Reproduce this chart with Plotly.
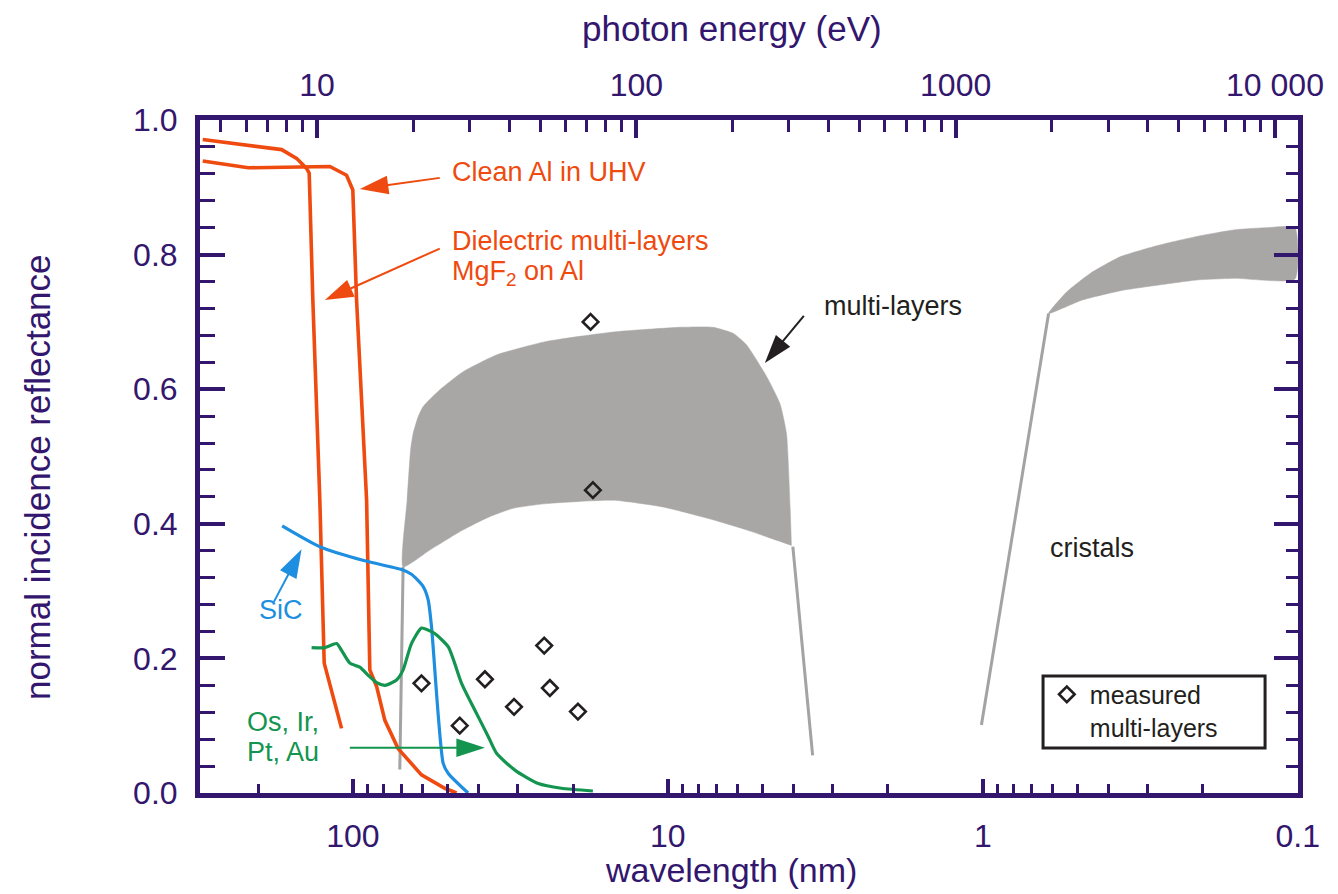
import numpy as np
import plotly.graph_objects as go

# ---- reflectance curves (wavelength in nm, normal incidence reflectance) ----
mgf2_wl = [300, 168.5, 151, 140.4, 137.7, 134.1, 127.4, 123.4, 108.7]
mgf2_r = [0.971, 0.956, 0.943, 0.928, 0.921, 0.733, 0.435, 0.193, 0.096]

al_wl = [300, 215.1, 118.4, 104.8, 100.1, 97.4, 90.5, 88.4, 84.1, 79.2, 71.9, 60.6, 51.1, 46.9]
al_r = [0.939, 0.929, 0.931, 0.918, 0.896, 0.733, 0.435, 0.183, 0.158, 0.108, 0.066, 0.027, 0.007, 0.0]

sic_wl = [167.8, 127.4, 91.7, 70.1, 65.2, 59.9, 57.7, 56.3, 51.7, 49.8, 43.1]
sic_r = [0.397, 0.366, 0.345, 0.332, 0.325, 0.307, 0.287, 0.247, 0.044, 0.029, 0.0]

metal_wl = [135.3, 122.8, 112.7, 108.7, 102.3, 95.1, 89.5, 84.1, 79.2, 72.7, 69.3, 65.2,
            60.6, 57.7, 55.0, 49.8, 45.2, 41.0, 37.2, 35.0, 30.6, 25.8, 21.8, 17.3]
metal_r = [0.216, 0.216, 0.222, 0.212, 0.193, 0.187, 0.175, 0.164, 0.160, 0.168, 0.183, 0.222,
           0.245, 0.242, 0.237, 0.217, 0.163, 0.123, 0.084, 0.059, 0.034, 0.014, 0.007, 0.003]

# ---- multilayer envelope (upper / lower bounds) ----
ml_top_wl = [69.3, 67.3, 65.6, 64.4, 62.1, 59.9, 53.0, 44.7, 35.0, 24.3, 14.9, 9.17, 7.19,
             6.21, 5.63, 4.86, 4.41, 4.20, 4.05]
ml_top_r = [0.336, 0.435, 0.510, 0.534, 0.559, 0.574, 0.599, 0.626, 0.651, 0.671, 0.685, 0.692,
            0.692, 0.683, 0.666, 0.619, 0.579, 0.534, 0.368]
ml_low_wl = [69.3, 57.0, 44.7, 36.8, 31.0, 24.3, 14.9, 10.36, 7.19, 5.63, 4.05]
ml_low_r = [0.336, 0.361, 0.391, 0.4106, 0.423, 0.430, 0.435, 0.425, 0.406, 0.391, 0.368]
ml_long_edge_wl = [71.0, 69.3]
ml_long_edge_r = [0.035, 0.336]
ml_short_edge_wl = [4.01, 3.47]
ml_short_edge_r = [0.366, 0.056]

# ---- crystal envelope ----
cr_top_wl = [0.618, 0.540, 0.456, 0.365, 0.276, 0.209, 0.158, 0.126, 0.102]
cr_top_r = [0.7125, 0.745, 0.772, 0.797, 0.814, 0.827, 0.837, 0.840, 0.840]
cr_low_wl = [0.618, 0.483, 0.365, 0.276, 0.209, 0.158, 0.102]
cr_low_r = [0.7125, 0.7325, 0.7464, 0.7548, 0.7623, 0.7647, 0.7637]
cr_edge_wl = [1.01, 0.618]
cr_edge_r = [0.101, 0.7125]

# ---- measured multilayer points ----
meas_wl = [60.6, 45.8, 38.1, 30.8, 24.7, 23.7, 19.3, 17.6, 17.3]
meas_r = [0.163, 0.100, 0.169, 0.128, 0.219, 0.156, 0.121, 0.700, 0.450]

# ---- axis ticks ----
wl_ticks = [100, 10, 1, 0.1]
wl_ticktext = ["100", "10", "1", "0.1"]
wl_minor = [200] + [m * d for d in (10, 1, 0.1) for m in range(2, 10)]
ev_ticks = [10, 100, 1000, 10000]
ev_ticktext = ["10", "100", "1000", "10 000"]
ev_minor = [m * d for d in (1, 10, 100, 1000) for m in range(2, 10) if m * d > 4.4]
r_ticks = [0.0, 0.2, 0.4, 0.6, 0.8, 1.0]

AXIS = "#33166E"
RED = "#EF4A0F"
BLUE = "#1E8FE0"
GREEN = "#13954F"
GRAY_FILL = "#A8A7A6"
GRAY_LINE = "#A3A3A3"
INK = "#231F20"
FONT = "Liberation Sans, Arial, sans-serif"

fig = go.Figure()


def band(wl_top, r_top, wl_low, r_low):
    fig.add_trace(go.Scatter(
        x=list(wl_top) + list(wl_low[::-1]), y=list(r_top) + list(r_low[::-1]),
        mode="lines", fill="toself", fillcolor=GRAY_FILL,
        line=dict(width=0.5, color=GRAY_FILL, shape="spline", smoothing=0.5),
        showlegend=False, hoverinfo="skip"))


def edge(wl, r):
    fig.add_trace(go.Scatter(x=wl, y=r, mode="lines", line=dict(color=GRAY_LINE, width=3),
                             showlegend=False, hoverinfo="skip"))


def curve(wl, r, color, width=3.2, shape="linear"):
    fig.add_trace(go.Scatter(x=wl, y=r, mode="lines",
                             line=dict(color=color, width=width, shape=shape, smoothing=0.6),
                             showlegend=False, hoverinfo="skip"))


def arrow(tail, tip, color, head=30):
    fig.add_trace(go.Scatter(
        x=[tail[0], tip[0]], y=[tail[1], tip[1]], mode="lines+markers",
        line=dict(color=color, width=2),
        marker=dict(symbol=["circle", "arrow"], size=[0, head], color=color, opacity=1,
                    angleref="previous", line=dict(width=0)),
        showlegend=False, hoverinfo="skip"))


band(ml_top_wl, ml_top_r, ml_low_wl, ml_low_r)
band(cr_top_wl, cr_top_r, cr_low_wl, cr_low_r)
edge(ml_long_edge_wl, ml_long_edge_r)
edge(ml_short_edge_wl, ml_short_edge_r)
edge(cr_edge_wl, cr_edge_r)

curve(mgf2_wl, mgf2_r, RED, 3.6)
curve(al_wl, al_r, RED, 3.6)
curve(sic_wl, sic_r, BLUE, 3.2, "spline")
curve(metal_wl, metal_r, GREEN, 3.2, "spline")

fig.add_trace(go.Scatter(
    x=meas_wl, y=meas_r, mode="markers", name="measured<br>multi-layers",
    marker=dict(symbol="diamond-open", size=12, color=INK, line=dict(width=2.6, color=INK)),
    hoverinfo="skip"))

# callout arrows
arrow((53.0, 0.914), (95.1, 0.8975), RED)
arrow((53.0, 0.809), (122.8, 0.7325), RED)
arrow((3.70, 0.709), (4.92, 0.639), INK)
arrow((178.3, 0.284), (145.6, 0.362), BLUE)
arrow((102.3, 0.0673), (38.1, 0.0673), GREEN)

# carrier for the secondary (top / right) axes
fig.add_trace(go.Scatter(x=[], y=[], xaxis="x2", yaxis="y2", showlegend=False, hoverinfo="skip"))


def label(text, wl, r, color, size=27):
    fig.add_annotation(x=np.log10(wl), y=r, xref="x", yref="y", text=text, showarrow=False,
                       xanchor="left", yanchor="middle", font=dict(size=size, color=color, family=FONT))


label("Clean Al in UHV", 49.3, 0.923, RED)
label("Dielectric multi-layers", 49.3, 0.820, RED)
label("MgF<sub>2</sub> on Al", 49.3, 0.773, RED)
label("multi-layers", 3.25, 0.7236, INK)
label("cristals", 0.622, 0.364, INK)
label("SiC", 201.8, 0.272, BLUE)
label("Os, Ir,", 220.3, 0.1055, GREEN)
label("Pt, Au", 220.3, 0.0609, GREEN)

# axis titles
fig.add_annotation(x=0.4836, y=-0.1144, xref="paper", yref="paper", text="wavelength (nm)",
                   showarrow=False, xanchor="center", yanchor="middle",
                   font=dict(size=34, color=AXIS, family=FONT))
fig.add_annotation(x=0.4845, y=1.136, xref="paper", yref="paper", text="photon energy (eV)",
                   showarrow=False, xanchor="center", yanchor="middle",
                   font=dict(size=35, color=AXIS, family=FONT))
fig.add_annotation(x=-0.1485, y=0.4695, xref="paper", yref="paper",
                   text="normal incidence reflectance", textangle=-90,
                   showarrow=False, xanchor="center", yanchor="middle",
                   font=dict(size=35, color=AXIS, family=FONT))

# legend frame
fig.add_shape(type="rect", xref="paper", yref="paper", x0=0.7678, x1=0.970, y0=0.0669, y1=0.1738,
              line=dict(color=INK, width=3), fillcolor="white", layer="above")

common = dict(showgrid=False, zeroline=False, showline=True, linecolor=AXIS, linewidth=5,
              ticks="inside", tickcolor=AXIS)

fig.update_layout(
    width=1338, height=894,
    margin=dict(l=200, r=40, t=120, b=101, pad=0),
    paper_bgcolor="white", plot_bgcolor="white",
    font=dict(family=FONT, color=AXIS),
    showlegend=True,
    legend=dict(x=0.7685, y=0.1805, xanchor="left", yanchor="top", bgcolor="rgba(0,0,0,0)",
                borderwidth=0, valign="top", itemwidth=36,
                font=dict(size=25, color=INK, family=FONT)),
    xaxis=dict(type="log", range=[np.log10(306), -1.001], tickvals=wl_ticks, ticktext=wl_ticktext,
               ticklen=14, tickwidth=4, tickfont=dict(size=32, color=AXIS), ticklabelstandoff=11,
               minor=dict(tickvals=wl_minor, ticks="inside", ticklen=9, tickwidth=3, tickcolor=AXIS),
               **common),
    xaxis2=dict(type="log", range=[0.6336, 4.072], overlaying="x", side="top", anchor="y",
                tickvals=ev_ticks, ticktext=ev_ticktext, ticklen=18, tickwidth=4,
                tickfont=dict(size=32, color=AXIS), ticklabelstandoff=6,
                minor=dict(tickvals=ev_minor, ticks="inside", ticklen=12, tickwidth=3, tickcolor=AXIS),
                **common),
    yaxis=dict(range=[0, 1.0], tickvals=r_ticks, tickformat=".1f", ticklen=25, tickwidth=4,
               tickfont=dict(size=32, color=AXIS), ticklabelstandoff=11,
               minor=dict(dtick=0.04, tick0=0, ticks="inside", ticklen=15, tickwidth=3, tickcolor=AXIS),
               **common),
    yaxis2=dict(range=[0, 1.0], overlaying="y", side="right", anchor="x", tickvals=r_ticks,
                showticklabels=False, ticklen=24, tickwidth=4,
                minor=dict(dtick=0.04, tick0=0, ticks="inside", ticklen=12, tickwidth=3, tickcolor=AXIS),
                **common),
)

fig.write_html("out.html")
